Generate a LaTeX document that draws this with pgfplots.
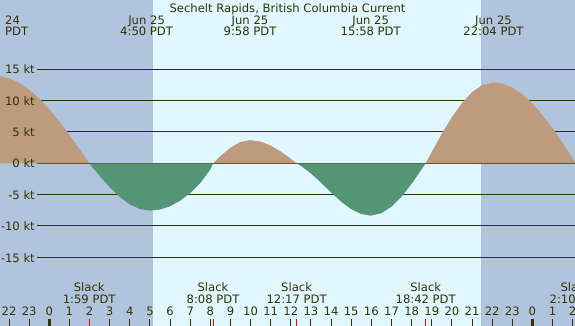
\documentclass[border=0pt]{standalone}
\usepackage{pgfplots}
\pgfplotsset{compat=1.18}
\usepackage{fontspec}
\setmainfont{DejaVu Sans}
\definecolor{night}{RGB}{176,196,222}
\definecolor{day}{RGB}{224,247,255}
\definecolor{flood}{RGB}{190,155,124}
\definecolor{ebb}{RGB}{84,149,118}
\definecolor{ink}{RGB}{51,51,0}
\begin{document}
\begin{tikzpicture}[x=1pt,y=1pt,every node/.style={font=\fontsize{11.6}{13}\selectfont,text=ink,inner sep=0pt}]
\path[use as bounding box] (0,0) rectangle (575,326);
\clip (0,0) rectangle (575,326);
\begin{axis}[at={(0,0)}, anchor=south west, scale only axis, width=575pt, height=326pt,
  xmin=-2.449, xmax=26.116, ymin=-25.95, ymax=26.04,
  axis on top,
  axis line style={draw=none}, ytick=\empty,
  xtick={-2,...,26},
  xticklabels={22,23,0,1,2,3,4,5,6,7,8,9,10,11,12,13,14,15,16,17,18,19,20,21,22,23,0,1,2},
  xtick pos=lower, tick align=inside, major tick length=7pt,
  tick style={ink, line width=1pt},
  xticklabel style={anchor=base, yshift=10.3pt, font=\fontsize{11.6}{13}\selectfont, text=ink, inner sep=0pt},
]
% day / night
\fill[night] (axis cs:-3,-27) rectangle (axis cs:5.137,27);
\fill[day] (axis cs:5.137,-27) rectangle (axis cs:21.45,27);
\fill[night] (axis cs:21.45,-27) rectangle (axis cs:27,27);
% grid lines
\foreach \v in {-15,-10,-5,0,5,10,15} {
  \edef\tmp{\noexpand\draw[ink, line width=1pt] (axis cs:-0.611,\v) -- (axis cs:27,\v);}\tmp
}
% flood / ebb areas
\addplot[fill=flood, draw=none] coordinates {(-2.6,0) (-2.6,13.94) (-2.5,13.92) (-2,13.57) (-1.5,12.84) (-1,11.74) (-0.5,10.32) (0,8.61) (0.5,6.66) (1,4.52) (1.5,2.25) (1.983,0)};
\addplot[fill=ebb, draw=none] coordinates {(1.983,0) (2,-0.07) (2.5,-2.01) (3,-3.82) (3.5,-5.37) (4,-6.56) (4.5,-7.30) (5,-7.56) (5.5,-7.38) (6,-6.85) (6.5,-5.97) (7,-4.75) (7.5,-3.16) (8,-0.99) (8.133,0)};
\addplot[fill=flood, draw=none] coordinates {(8.133,0) (8.5,1.14) (9,2.50) (9.5,3.41) (9.967,3.70) (10.5,3.46) (11,2.83) (11.5,1.87) (12,0.71) (12.283,0)};
\addplot[fill=ebb, draw=none] coordinates {(12.283,0) (12.5,-0.42) (13,-1.63) (13.5,-3.10) (14,-4.66) (14.5,-6.13) (15,-7.33) (15.5,-8.10) (15.967,-8.35) (16.5,-7.96) (17,-6.92) (17.5,-5.31) (18,-3.27) (18.5,-0.96) (18.7,0)};
\addplot[fill=flood, draw=none] coordinates {(18.7,0) (19,1.80) (19.5,4.70) (20,7.35) (20.5,9.60) (21,11.34) (21.5,12.45) (22.067,12.9) (22.5,12.72) (23,12.08) (23.5,11.00) (24,9.52) (24.5,7.68) (25,5.58) (25.5,3.26) (26,0.82) (26.167,0)};
% day boundary ticks
\draw[ink, line width=2.7pt] (axis cs:0,-25.95) -- (axis cs:0,-24.83);
\draw[ink, line width=2.7pt] (axis cs:24,-25.95) -- (axis cs:24,-24.83);
% slack positions
\coordinate (s1) at (axis cs:1.983,-25.95);
\coordinate (s2) at (axis cs:8.133,-25.95);
\coordinate (s3) at (axis cs:12.283,-25.95);
\coordinate (s4) at (axis cs:18.7,-25.95);
\end{axis}
\foreach \s in {s1,s2,s3,s4} \draw[red, line width=1pt] (\s) -- ++(0,7);
% title and labels
\node[anchor=base] at (287.5,313.3) {Sechelt Rapids, British Columbia Current};
\node[anchor=base west] at (5,301.7) {24};
\node[anchor=base west] at (5,290) {PDT};
\node[anchor=base] at (146.6,301.7) {Jun 25};
\node[anchor=base] at (146.6,290) {4:50 PDT};
\node[anchor=base] at (250.0,301.7) {Jun 25};
\node[anchor=base] at (250.0,290) {9:58 PDT};
\node[anchor=base] at (370.7,301.7) {Jun 25};
\node[anchor=base] at (370.7,290) {15:58 PDT};
\node[anchor=base] at (493.5,301.7) {Jun 25};
\node[anchor=base] at (493.5,290) {22:04 PDT};
\node[anchor=base] at (89.2,34) {Slack};
\node[anchor=base] at (89.2,22) {1:59 PDT};
\node[anchor=base] at (213.0,34) {Slack};
\node[anchor=base] at (213.0,22) {8:08 PDT};
\node[anchor=base] at (296.6,34) {Slack};
\node[anchor=base] at (296.6,22) {12:17 PDT};
\node[anchor=base] at (425.7,34) {Slack};
\node[anchor=base] at (425.7,22) {18:42 PDT};
\node[anchor=base] at (576.0,34) {Slack};
\node[anchor=base] at (576.0,22) {2:10 PDT};
\node[anchor=base east] at (35,252.05) {15 kt};
\node[anchor=base east] at (35,220.7) {10 kt};
\node[anchor=base east] at (35,189.35) {5 kt};
\node[anchor=base east] at (35,158.0) {0 kt};
\node[anchor=base east] at (35,126.65) {-5 kt};
\node[anchor=base east] at (35,95.3) {-10 kt};
\node[anchor=base east] at (35,63.95) {-15 kt};
\end{tikzpicture}
\end{document}
